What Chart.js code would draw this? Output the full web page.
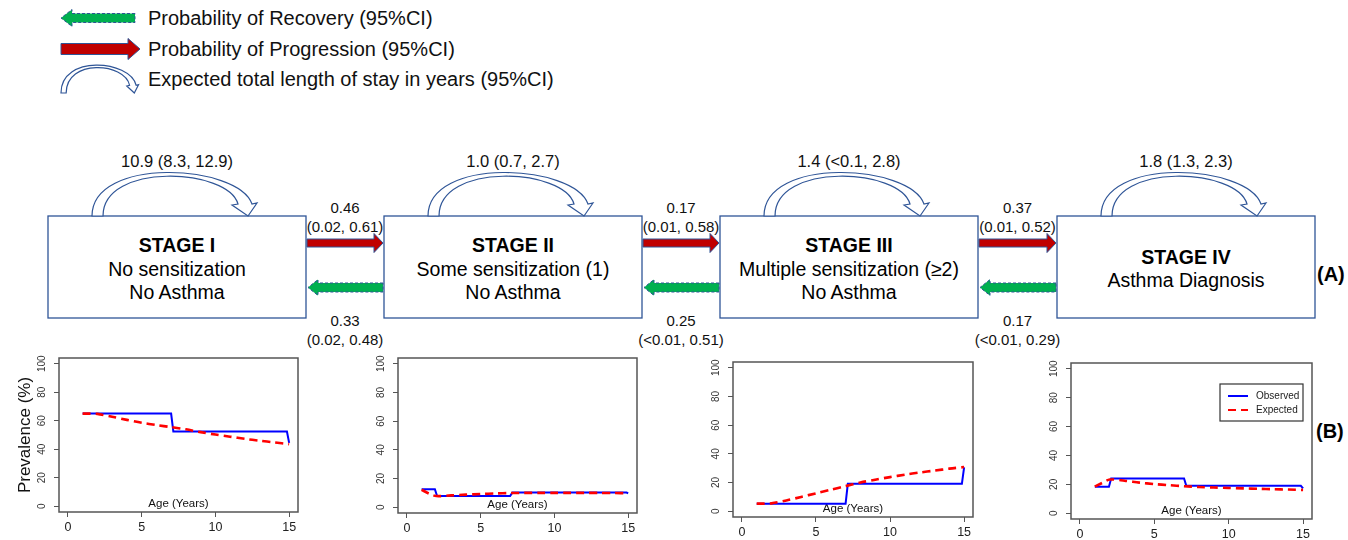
<!DOCTYPE html>
<html>
<head>
<meta charset="utf-8">
<script src="https://cdn.jsdelivr.net/npm/chart.js@4.4.1/dist/chart.umd.min.js"></script>
<style>
  html, body { margin: 0; padding: 0; background: #fff; }
  #wrap { position: relative; width: 1348px; height: 540px; overflow: hidden; background: #fff; }
  #diagram { position: absolute; left: 0; top: 0; }
  .plot { position: absolute; }
</style>
</head>
<body>
<div id="wrap">
  <svg id="diagram" width="1348" height="540"></svg>
  <canvas id="plot1" class="plot"></canvas>
  <canvas id="plot2" class="plot"></canvas>
  <canvas id="plot3" class="plot"></canvas>
  <canvas id="plot4" class="plot"></canvas>
</div>
<script>
// ---- diagram text ----
const legendTexts = ['Probability of Recovery (95%CI)', 'Probability of Progression (95%CI)', 'Expected total length of stay in years (95%CI)'];
const stageTitles = ['STAGE I', 'STAGE II', 'STAGE III', 'STAGE IV'];
const stageLines = [
  ['No sensitization', 'No Asthma'],
  ['Some sensitization (1)', 'No Asthma'],
  ['Multiple sensitization (\u22652)', 'No Asthma'],
  ['Asthma Diagnosis']
];
const stayLabels = ['10.9 (8.3, 12.9)', '1.0 (0.7, 2.7)', '1.4 (<0.1, 2.8)', '1.8 (1.3, 2.3)'];
const progressionLabels = [['0.46', '(0.02, 0.61)'], ['0.17', '(0.01, 0.58)'], ['0.37', '(0.01, 0.52)']];
const recoveryLabels = [['0.33', '(0.02, 0.48)'], ['0.25', '(<0.01, 0.51)'], ['0.17', '(<0.01, 0.29)']];

// ---- plot data (age in years, prevalence in %) ----
const ageTicks = [0, 5, 10, 15];
const prevTicks = [0, 20, 40, 60, 80, 100];
const expAge = [1, 1.5, 2, 3, 4, 5, 6, 7, 8, 9, 10, 11, 12, 13, 14, 15];

const obsAge1 = [1, 7, 7.15, 14.85, 15];
const obsPrev1 = [65, 65, 52.5, 52.5, 44.5];
const expPrev1 = [65, 65, 64.8, 62.8, 60.6, 58.6, 57, 55.5, 54, 52, 50.3, 48.8, 47.3, 46, 44.8, 43.6];

const obsAge2 = [1, 1.9, 2.05, 7, 7.15, 14.9, 15];
const obsPrev2 = [12.6, 12.6, 7.8, 7.8, 10.2, 10.2, 9.6];
const expPrev2 = [12.2, 9.5, 7.8, 8.3, 8.8, 9.2, 9.6, 9.9, 10, 10, 10, 10, 10, 10, 9.9, 9.8];

const obsAge3 = [1, 7, 7.15, 14.85, 15];
const obsPrev3 = [5.3, 5.3, 19.1, 19.1, 30.6];
const expPrev3 = [5.3, 5.3, 5.5, 7.5, 10, 12.5, 15, 17.5, 20, 22, 23.8, 25.5, 27, 28.3, 29.7, 30.8];

const obsAge4 = [1, 1.95, 2.1, 7, 7.15, 14.85, 15];
const obsPrev4 = [18.3, 18.3, 24, 24, 19, 19, 17.2];
const expPrev4 = [18.5, 21, 23.3, 22.5, 21.2, 20.2, 19.4, 18.7, 18.2, 17.8, 17.5, 17.2, 16.9, 16.6, 16.4, 16.1];

const FONT = '"Liberation Sans", Arial, sans-serif';
const NAVY = '#2f5597';

// ---- SVG diagram ----
const svgNS = 'http://www.w3.org/2000/svg';
const svg = document.getElementById('diagram');

function el(tag, attrs, text) {
  const e = document.createElementNS(svgNS, tag);
  for (const k in attrs) e.setAttribute(k, attrs[k]);
  if (text != null) e.textContent = text;
  svg.appendChild(e);
  return e;
}

function rightArrow(x0, x1, cy, sh, hh, hl) {
  return `M${x0},${cy - sh} L${x1 - hl},${cy - sh} L${x1 - hl},${cy - hh} L${x1},${cy} ` +
         `L${x1 - hl},${cy + hh} L${x1 - hl},${cy + sh} L${x0},${cy + sh} Z`;
}

function leftArrow(x0, x1, cy, sh, hh, hl) {
  return `M${x1},${cy - sh} L${x0 + hl},${cy - sh} L${x0 + hl},${cy - hh} L${x0},${cy} ` +
         `L${x0 + hl},${cy + hh} L${x0 + hl},${cy + sh} L${x1},${cy + sh} Z`;
}

// curved "stay" arrow, drawn relative to (0,0) = box left / box top
const loopPath = 'M44,0 C44,-60 190,-52 204,-12 L209,-13 L200,0 L184,-11 L190,-12 ' +
                 'C180,-48 55,-54 55,0 Z';

function text(x, y, str, size, opts = {}) {
  return el('text', {
    x, y, 'font-size': size, 'font-family': FONT, fill: opts.fill || '#000',
    'font-weight': opts.bold ? 'bold' : 'normal',
    'text-anchor': opts.anchor || 'middle', 'dominant-baseline': 'central'
  }, str);
}

// top legend
el('path', { d: leftArrow(61, 135, 18, 4.5, 8.5, 11), fill: '#00b050', stroke: NAVY, 'stroke-width': 1, 'stroke-dasharray': '3 2' });
el('path', { d: rightArrow(61, 140, 49, 5.5, 10.5, 12), fill: '#c00000', stroke: NAVY, 'stroke-width': 1 });
el('path', { d: loopPath, fill: '#fff', stroke: NAVY, 'stroke-width': 1.2, 'vector-effect': 'non-scaling-stroke',
             transform: 'translate(40.3,93) scale(0.47,0.64)' });
legendTexts.forEach((t, i) => text(148, 18 + i * 30.5, t, 20, { anchor: 'start', fill: '#111' }));

// stage boxes
const boxX = [48, 384, 720, 1057];
const boxW = 258, boxTop = 216, boxH = 102;

boxX.forEach((bx, i) => {
  const cx = bx + boxW / 2;
  el('rect', { x: bx, y: boxTop, width: boxW, height: boxH, fill: '#fff', stroke: NAVY, 'stroke-width': 1.3 });
  el('path', { d: loopPath, fill: '#fff', stroke: NAVY, 'stroke-width': 1.2, transform: `translate(${bx},${boxTop})` });
  text(cx, 161, stayLabels[i], 16.5, { fill: '#111' });
  const lines = [stageTitles[i], ...stageLines[i]];
  const y0 = 268.5 - (lines.length - 1) * 23.5 / 2;
  lines.forEach((ln, k) => text(cx, y0 + k * 23.5, ln, 19.5, { bold: k === 0, fill: '#000' }));
});

// transition arrows between stages
for (let i = 0; i < 3; i++) {
  const x0 = boxX[i] + boxW + 1, x1 = boxX[i + 1] - 1;
  const mid = (x0 + x1) / 2;
  el('path', { d: rightArrow(x0, x1, 243, 4, 9.5, 9), fill: '#c00000', stroke: NAVY, 'stroke-width': 1 });
  el('path', { d: leftArrow(x0 + 1, x1, 287.5, 4.5, 8, 10), fill: '#00b050', stroke: NAVY, 'stroke-width': 1, 'stroke-dasharray': '3 2' });
  text(mid, 207, progressionLabels[i][0], 15, { fill: '#111' });
  text(mid, 226, progressionLabels[i][1], 15, { fill: '#111' });
  text(mid, 320, recoveryLabels[i][0], 15, { fill: '#111' });
  text(mid, 339, recoveryLabels[i][1], 15, { fill: '#111' });
}

text(1317, 274, '(A)', 20, { bold: true, anchor: 'start' });
text(1316, 431, '(B)', 20, { bold: true, anchor: 'start' });

// ---- Chart.js plots ----
const framePlugin = {
  id: 'frame',
  afterDraw(chart) {
    const { ctx, chartArea: a } = chart;
    ctx.save();
    ctx.strokeStyle = '#555';
    ctx.lineWidth = 1.5;
    ctx.strokeRect(a.left, a.top, a.right - a.left, a.bottom - a.top);
    ctx.restore();
  }
};

const boxLegend = {
  id: 'boxLegend',
  afterDraw(chart, args, opts) {
    if (!opts.show) return;
    const { ctx, chartArea: a } = chart;
    const x0 = a.right - 92, y0 = a.top + 21, w = 83, h = 37;
    ctx.save();
    ctx.fillStyle = '#fff';
    ctx.fillRect(x0, y0, w, h);
    ctx.strokeStyle = '#333';
    ctx.lineWidth = 1.2;
    ctx.strokeRect(x0, y0, w, h);
    // legend rows follow dataset index: Observed first
    chart.data.datasets.forEach((ds, k) => {
      const yy = y0 + 12 + k * 14;
      ctx.strokeStyle = ds.borderColor;
      ctx.lineWidth = 2;
      ctx.setLineDash(ds.borderDash || []);
      ctx.beginPath();
      ctx.moveTo(x0 + 8, yy);
      ctx.lineTo(x0 + 28, yy);
      ctx.stroke();
      ctx.setLineDash([]);
      ctx.fillStyle = '#222';
      ctx.font = '10px ' + FONT;
      ctx.textBaseline = 'middle';
      ctx.fillText(ds.label, x0 + 36, yy);
    });
    ctx.restore();
  }
};

// plot area rectangles on the page
const plotBoxes = [
  { left: 59, top: 355, right: 298, bottom: 512 },
  { left: 398, top: 355, right: 637, bottom: 513 },
  { left: 733, top: 359, right: 973, bottom: 517 },
  { left: 1071, top: 360, right: 1312, bottom: 519 }
];
const AXIS_W = 59, AXIS_H = 28, PAD = 6;

function makePlot(idx, obsAge, obsPrev, expPrev) {
  const b = plotBoxes[idx];
  const canvas = document.getElementById('plot' + (idx + 1));
  const w = b.right - b.left + AXIS_W + PAD;
  const h = b.bottom - b.top + AXIS_H + PAD;
  canvas.width = w; canvas.height = h;
  canvas.style.width = w + 'px'; canvas.style.height = h + 'px';
  canvas.style.left = (b.left - AXIS_W) + 'px';
  canvas.style.top = (b.top - PAD) + 'px';

  new Chart(canvas, {
    type: 'scatter',
    data: {
      datasets: [
        {
          label: 'Observed',
          data: obsAge.map((x, k) => ({ x, y: obsPrev[k] })),
          showLine: true, borderColor: '#0000ff', borderWidth: 2,
          pointRadius: 0, tension: 0, order: 1
        },
        {
          label: 'Expected',
          data: expAge.map((x, k) => ({ x, y: expPrev[k] })),
          showLine: true, borderColor: '#ff0000', borderWidth: 2.6, borderDash: [8, 5],
          pointRadius: 0, tension: 0.3, order: 0
        }
      ]
    },
    options: {
      responsive: false,
      animation: false,
      events: [],
      layout: { padding: { top: PAD, right: PAD, left: 0, bottom: 0 } },
      plugins: {
        legend: { display: false },
        tooltip: { enabled: false },
        boxLegend: { show: idx === 3 }
      },
      scales: {
        x: {
          type: 'linear', min: -0.6, max: 15.6,
          afterBuildTicks: s => { s.ticks = ageTicks.map(v => ({ value: v })); },
          afterFit: s => { s.height = AXIS_H; },
          grid: { drawOnChartArea: false, drawTicks: true, tickLength: 5, color: '#555', lineWidth: 1 },
          border: { display: false },
          ticks: { autoSkip: false, maxRotation: 0, padding: 3, color: '#222', font: { size: 12.5, family: FONT } },
          title: {
            display: true, text: 'Age (Years)', color: '#111',
            font: { size: 11.5, family: FONT }, padding: { top: 0, bottom: 29 }
          }
        },
        y: {
          type: 'linear', min: -4, max: 104,
          afterBuildTicks: s => { s.ticks = prevTicks.map(v => ({ value: v })); },
          afterFit: s => { s.width = AXIS_W; },
          grid: { drawOnChartArea: false, drawTicks: true, tickLength: 5, color: '#555', lineWidth: 1 },
          border: { display: false },
          ticks: {
            autoSkip: false, minRotation: 90, maxRotation: 90, crossAlign: 'center',
            padding: 3, color: '#333', font: { size: 10, family: FONT }
          },
          title: {
            display: idx === 0, text: 'Prevalence (%)', color: '#111',
            font: { size: 17, family: FONT }, padding: { top: 15, bottom: 0 }
          }
        }
      }
    },
    plugins: [framePlugin, boxLegend]
  });
}

makePlot(0, obsAge1, obsPrev1, expPrev1);
makePlot(1, obsAge2, obsPrev2, expPrev2);
makePlot(2, obsAge3, obsPrev3, expPrev3);
makePlot(3, obsAge4, obsPrev4, expPrev4);
</script>
</body>
</html>
